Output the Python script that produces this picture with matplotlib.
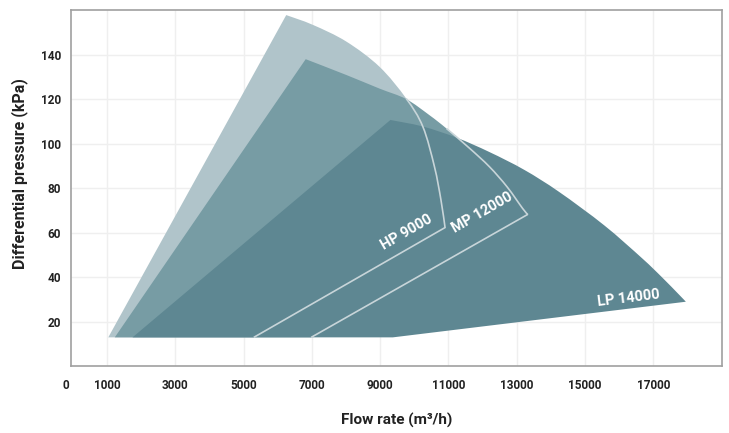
import numpy as np
import matplotlib
matplotlib.use('Agg')
import matplotlib.pyplot as plt
import matplotlib.transforms as mtransforms
from matplotlib.path import Path
from matplotlib.patches import PathPatch

plt.rcParams['font.family'] = ['Roboto', 'DejaVu Sans']
plt.rcParams['font.weight'] = 'bold'

# outline vertices (flow m3/h, pressure kPa)
# first = bottom-left corner, then apex + curved edge, last = bottom-right corner
hp_x = [1040, 6250, 7030, 8010, 8980, 9760, 10250, 10590, 10780, 10900, 5300]
hp_y = [13, 157.7, 153.3, 145.8, 134.5, 120.3, 107.6, 89.6, 74.7, 62.3, 13]
mp_x = [1230, 6820, 8010, 8980, 9760, 10440, 10940, 11610, 12200, 12720, 13170, 13320, 6980]
mp_y = [13, 137.9, 130.8, 124.7, 120.0, 112.8, 106.8, 98.0, 89.6, 80.5, 70.9, 68.2, 13]
lp_x = [1750, 9300, 10240, 11230, 12200, 13220, 14240, 15560, 16670, 17250, 17750, 17950, 9370]
lp_y = [13, 110.6, 107.7, 102.7, 96.2, 88.2, 78.3, 63.3, 48.5, 40.0, 32.2, 29.0, 13]

names = ['HP 9000', 'MP 12000', 'LP 14000']
label_x = [9780, 11990, 16290]
label_y = [60.2, 68.8, 30.4]
label_rot = [30, 30, 7]

xticks = [0, 1000, 3000, 5000, 7000, 9000, 11000, 13000, 15000, 17000]
yticks = [20, 40, 60, 80, 100, 120, 140]


def curve_codes(xs, ys, start):
    # smooth bezier through the curved edge points xs[1:-1]
    pts = np.column_stack([xs, ys]).astype(float)
    arc = pts[1:-1]
    n = len(arc)
    verts, codes = [], []
    for i in range(start, n - 1):
        p0 = arc[max(i - 1, 0)]
        p1 = arc[i]
        p2 = arc[i + 1]
        p3 = arc[min(i + 2, n - 1)]
        verts += [p1 + (p2 - p0) / 6, p2 - (p3 - p1) / 6, p2]
        codes += [Path.CURVE4] * 3
    return arc[start], verts, codes


def shape_path(xs, ys):
    first, v, c = curve_codes(xs, ys, 0)
    verts = [(xs[0], ys[0]), first] + v + [(xs[-1], ys[-1]), (xs[0], ys[0])]
    codes = [Path.MOVETO, Path.LINETO] + c + [Path.LINETO, Path.CLOSEPOLY]
    return Path(verts, codes)


def edge_path(xs, ys, start):
    first, v, c = curve_codes(xs, ys, start)
    verts = [first] + v + [(xs[-1], ys[-1])]
    codes = [Path.MOVETO] + c + [Path.LINETO]
    return Path(verts, codes)


fig = plt.figure(figsize=(7.29, 4.33), dpi=100)
ax = fig.add_axes([0.097, 0.154, 0.893, 0.823])

ax.add_patch(PathPatch(shape_path(hp_x, hp_y), fc='#b0c4ca', lw=0, zorder=2))
ax.add_patch(PathPatch(shape_path(mp_x, mp_y), fc='#779ca4', lw=0, zorder=3))
ax.add_patch(PathPatch(shape_path(lp_x, lp_y), fc='#5e8792', lw=0, zorder=4))
ax.add_patch(PathPatch(edge_path(hp_x, hp_y, 4), fc='none', ec='#c8d5d9', lw=1.2, zorder=5))
ax.add_patch(PathPatch(edge_path(mp_x, mp_y, 5), fc='none', ec='#c8d5d9', lw=1.2, zorder=5))

for n, x, y, r in zip(names, label_x, label_y, label_rot):
    ax.text(x, y, n, color='white', fontsize=10.5, fontweight='bold', rotation=r,
            ha='center', va='center', rotation_mode='anchor', zorder=6)

ax.set_xlim(-60, 19000)
ax.set_ylim(0, 160)
ax.set_xticks(xticks)
ax.set_xticklabels([str(t) for t in xticks])
ax.set_yticks(yticks)
ax.tick_params(length=0, labelsize=8.5, colors='#222222')
ax.tick_params(axis='x', pad=9)
ax.tick_params(axis='y', pad=7)
ax.grid(True, color='#efefef', lw=1, zorder=0)
ax.get_xgridlines()[0].set_visible(False)
ax.set_axisbelow(True)
for s in ax.spines.values():
    s.set_color('#a0a0a0')
    s.set_linewidth(1.2)

# the "0" label sits a little left of the axis in the original
fig.canvas.draw()
zero = ax.get_xticklabels()[0]
zero.set_transform(zero.get_transform() + mtransforms.ScaledTranslation(-7 / 100, 0, fig.dpi_scale_trans))

ax.set_xlabel('Flow rate (m³/h)', fontsize=11, fontweight='bold', color='#222222')
ax.xaxis.set_label_coords(0.5, -0.151)
ax.xaxis.label.set_va('center')
ax.set_ylabel('Differential pressure (kPa)', fontsize=11.5, fontweight='bold', color='#222222')
ax.yaxis.set_label_coords(-0.078, 0.54)
ax.yaxis.label.set_va('center')

fig.savefig('out.png', dpi=100)
